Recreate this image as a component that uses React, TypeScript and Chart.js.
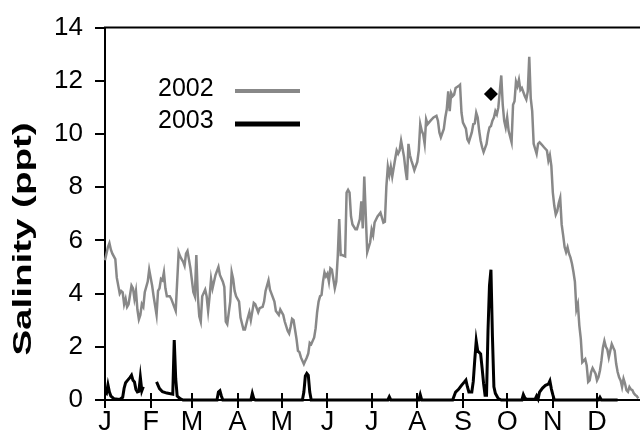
import React, { useEffect, useRef } from "react";
import { Chart, registerables } from "chart.js";

Chart.register(...registerables);

const monthStarts = [0, 31, 59, 90, 120, 151, 181, 212, 243, 273, 304, 334];
const monthLabels = ["J", "F", "M", "A", "M", "J", "J", "A", "S", "O", "N", "D"];
const legendLabels = ["2002", "2003"];
const yTitle = "Salinity (ppt)";

const days2002 = [
  0, 2, 3, 4, 5, 7, 8, 9, 10, 11,
  12, 13, 14, 15, 16, 18, 19, 20, 21, 22,
  23, 24, 25, 26, 27, 29, 30, 32, 33, 35,
  36, 37, 38, 39, 40, 41, 42, 44, 45, 47,
  48, 50, 51, 52, 53, 54, 55, 56, 58, 60,
  61, 62, 63, 64, 65, 66, 68, 69, 70, 71,
  72, 73, 75, 77, 78, 80, 81, 82, 83, 85,
  86, 87, 88, 89, 91, 92, 94, 95, 97, 98,
  99, 101, 102, 104, 105, 107, 108, 109, 111, 112,
  113, 115, 116, 118, 119, 121, 122, 124, 125, 126,
  127, 128, 130, 131, 132, 133, 135, 136, 137, 138,
  139, 140, 142, 143, 144, 145, 146, 147, 148, 149,
  150, 151, 152, 153, 154, 156, 157, 158, 159, 160,
  161, 163, 164, 165, 166, 167, 168, 170, 171, 173,
  174, 175, 176, 178, 180, 181, 182, 183, 185, 187,
  189, 190, 191, 192, 193, 194, 195, 197, 198, 199,
  200, 201, 203, 204, 205, 206, 207, 208, 209, 210,
  212, 213, 214, 215, 216, 217, 218, 219, 221, 223,
  225, 226, 227, 228, 230, 231, 232, 233, 234, 235,
  236, 237, 238, 240, 241, 242, 243, 245, 246, 247,
  249, 250, 251, 252, 253, 254, 255, 256, 257, 259,
  260, 261, 262, 263, 264, 265, 266, 267, 269, 270,
  271, 272, 273, 274, 276, 277, 278, 279, 280, 281,
  282, 283, 285, 286, 287, 288, 289, 290, 291, 293,
  294, 295, 296, 297, 298, 300, 301, 302, 303, 304,
  305, 306, 307, 308, 309, 310, 311, 312, 313, 314,
  315, 316, 317, 318, 319, 320, 321, 322, 323, 324,
  325, 326, 327, 328, 329, 330, 331, 333, 334, 335,
  336, 337, 338, 339, 340, 341, 342, 343, 344, 345,
  346, 347, 348, 349, 350, 351, 352, 353, 354, 355,
  356, 357, 358, 359, 360, 361, 362,
];

const salinity2002 = [
  5.25, 5.75, 5.9, 5.65, 5.5, 5.3, 4.6, 4.3, 4.0, 4.1,
  4.05, 3.6, 3.8, 3.5, 3.6, 4.3, 4.2, 3.8, 4.1, 3.4,
  3.03, 3.2, 3.6, 3.5, 4.05, 4.45, 4.9, 4.3, 3.9, 3.2,
  4.1, 4.2, 4.55, 4.5, 4.8, 4.2, 3.9, 3.9, 3.8, 3.5,
  3.35, 5.55, 5.4, 5.3, 5.2, 5.05, 5.5, 5.6, 4.95, 4.05,
  3.9, 5.45, 3.9, 3.15, 2.95, 3.9, 4.15, 3.9, 3.35, 3.9,
  4.55, 4.2, 4.7, 5.0, 4.7, 4.45, 4.25, 2.95, 2.85, 3.7,
  4.8, 4.55, 4.1, 3.9, 3.7, 3.1, 2.65, 2.65, 3.1, 3.3,
  3.0, 3.65, 3.6, 3.3, 3.45, 3.5, 3.7, 4.1, 4.5, 4.15,
  4.0, 3.7, 3.35, 3.2, 3.4, 3.2, 2.95, 2.6, 2.5, 2.75,
  3.05, 3.0, 2.3, 1.85, 1.8, 1.6, 1.35, 1.48, 1.6, 1.75,
  2.15, 2.1, 2.35, 2.7, 3.3, 3.7, 3.9, 3.95, 4.45, 4.8,
  4.65, 4.75, 4.45, 4.95, 4.9, 4.2, 4.45, 5.4, 6.8, 5.45,
  5.45, 5.4, 7.8, 7.9, 7.8, 6.9, 6.6, 6.42, 6.42, 6.8,
  7.47, 6.45, 8.4, 5.56, 5.93, 6.4, 6.2, 6.67, 6.9, 7.04,
  6.67, 6.7, 8.02, 8.77, 8.46, 8.77, 8.4, 9.07, 9.38, 9.26,
  9.38, 9.75, 9.14, 8.64, 8.27, 9.63, 9.2, 9.0, 8.83, 8.64,
  8.95, 9.38, 10.37, 10.12, 9.99, 9.63, 10.55, 10.37, 10.5, 10.62,
  10.68, 10.5, 10.06, 9.88, 10.19, 10.62, 10.93, 11.6, 10.86, 11.54,
  11.42, 11.48, 11.73, 11.8, 11.85, 10.8, 10.43, 10.2, 9.8, 9.7,
  10.06, 10.37, 10.4, 10.8, 10.62, 10.12, 9.75, 9.5, 9.32, 9.63,
  10.0, 10.25, 10.3, 10.5, 10.62, 10.86, 10.74, 10.99, 12.2, 11.1,
  10.5, 10.25, 10.62, 10.12, 9.69, 11.1, 11.23, 11.97, 11.8, 12.04,
  11.66, 11.73, 11.42, 11.3, 11.6, 12.9, 11.35, 10.86, 9.63, 9.26,
  9.63, 9.69, 9.63, 9.57, 9.5, 9.38, 9.0, 9.2, 8.8, 7.8,
  7.3, 6.97, 7.1, 7.4, 7.6, 6.6, 6.2, 5.75, 5.56, 5.74,
  5.5, 5.35, 5.12, 4.81, 4.44, 3.4, 3.6, 2.8, 2.3, 1.42,
  1.48, 1.54, 1.3, 0.68, 0.74, 1.05, 1.2, 0.99, 0.74, 0.86,
  1.11, 1.48, 1.97, 2.22, 2.0, 1.9, 1.6, 1.85, 2.1, 1.97,
  1.85, 1.36, 1.05, 0.85, 0.74, 0.49, 0.8, 0.62, 0.37, 0.31,
  0.49, 0.4, 0.37, 0.25, 0.19, 0.15, 0.06,
];

const days2003 = [
  0, 1, 2, 3, 4, 6, 10, 12, 13, 14,
  15, 17, 18, 19, 20, 21, 22, 23, 24, 25,
  26, 30, 35, 37, 39, 42, 46, 47, 48, 49,
  51, 53, 76, 77, 78, 79, 80, 99, 100, 101,
  102, 134, 135, 136, 137, 138, 139, 140, 192, 193,
  194, 213, 214, 215, 236, 237, 238, 240, 242, 244,
  245, 246, 247, 249, 250, 251, 252, 253, 255, 256,
  257, 258, 259, 260, 261, 262, 263, 264, 265, 267,
  269, 283, 284, 285, 286, 292, 293, 294, 295, 297,
  299, 301, 302, 303, 304, 305, 335, 336, 337, 348,
];

const salinity2003 = [
  0.3, 0.25, 0.57, 0.3, 0.15, 0.05, 0.02, 0.1, 0.45, 0.65,
  0.72, 0.85, 0.93, 0.74, 0.68, 0.4, 0.3, 0.32, 0.85, 0.35,
  0.5, null, 0.68, 0.43, 0.31, 0.26, 0.22, 2.25, 0.8, 0.15,
  0.05, 0, 0, 0.3, 0.35, 0.15, 0, 0, 0.25, 0.05,
  0, 0, 0.3, 0.9, 1.0, 0.93, 0.3, 0, 0, 0.12,
  0, 0, 0.2, 0, 0, 0.15, 0.3, 0.4, 0.55, 0.68,
  0.75, 0.5, 0.3, 0.3, 0.7, 1.5, 2.22, 1.85, 1.73, 1.2,
  0.62, 0.18, 0.18, 2.6, 4.3, 4.9, 2.4, 0.5, 0.25, 0.05,
  0, 0, 0.2, 0.08, 0.03, 0.03, 0.15, 0.04, 0.3, 0.45,
  0.55, 0.6, 0.72, 0.42, 0.2, 0, 0, 0.1, 0, 0,
];

const markerDays = [262];
const markerValues = [11.5];

const GRAY = "#888888";
const FONT = "'Liberation Sans', Arial, Helvetica, sans-serif";

const toPoints = (xs: number[], ys: (number | null)[]) =>
  xs.map((x, i) => ({ x, y: ys[i] }));

const decorPlugin = {
  id: "decor",
  afterDraw(chart: any) {
    const { ctx, chartArea, scales } = chart;
    ctx.save();
    // top frame line
    ctx.strokeStyle = "#000";
    ctx.lineWidth = 2;
    ctx.beginPath();
    ctx.moveTo(chartArea.left - 1, chartArea.top);
    ctx.lineTo(chart.width, chartArea.top);
    ctx.stroke();
    // inner half of x tick marks (crossing ticks)
    const y0 = scales.y.getPixelForValue(0);
    ctx.beginPath();
    for (const d of monthStarts) {
      const x = Math.round(scales.x.getPixelForValue(d));
      ctx.moveTo(x, y0 - 7);
      ctx.lineTo(x, y0);
    }
    ctx.stroke();

    // legend
    ctx.font = `25px ${FONT}`;
    ctx.fillStyle = "#000";
    ctx.textAlign = "left";
    ctx.textBaseline = "alphabetic";
    ctx.fillText(legendLabels[0], 158, 96);
    ctx.fillText(legendLabels[1], 158, 128);
    ctx.lineWidth = 4;
    ctx.strokeStyle = GRAY;
    ctx.beginPath();
    ctx.moveTo(235, 91);
    ctx.lineTo(300, 91);
    ctx.stroke();
    ctx.lineWidth = 5;
    ctx.strokeStyle = "#000";
    ctx.beginPath();
    ctx.moveTo(235, 124);
    ctx.lineTo(300, 124);
    ctx.stroke();

    // y axis title (stretched along its length)
    ctx.font = `bold 25px ${FONT}`;
    ctx.translate(31, 239);
    ctx.rotate(-Math.PI / 2);
    ctx.scale(1.54, 1);
    ctx.textAlign = "center";
    ctx.fillText(yTitle, 0, 0);
    ctx.restore();
  },
};

export default function App() {
  const canvasRef = useRef<HTMLCanvasElement | null>(null);

  useEffect(() => {
    document.body.style.margin = "0";
    const canvas = canvasRef.current;
    if (!canvas) return;
    const chart = new Chart(canvas, {
      type: "line",
      data: {
        datasets: [
          {
            label: "marker",
            data: toPoints(markerDays, markerValues),
            showLine: false,
            pointStyle: "rectRot",
            pointRadius: 7,
            pointBackgroundColor: "#000",
            pointBorderColor: "#000",
            pointBorderWidth: 0,
            borderColor: "#000",
            backgroundColor: "#000",
          },
          {
            label: "2003",
            data: toPoints(days2003, salinity2003),
            borderColor: "#000",
            borderWidth: 3,
            pointRadius: 0,
            spanGaps: false,
            tension: 0,
            clip: false,
          },
          {
            label: "2002",
            data: toPoints(days2002, salinity2002),
            borderColor: GRAY,
            borderWidth: 2.5,
            pointRadius: 0,
            tension: 0,
            clip: false,
          },
        ],
      } as any,
      options: {
        animation: false,
        responsive: false,
        maintainAspectRatio: false,
        layout: {
          autoPadding: false,
          padding: { top: 22, right: 1, bottom: 0, left: 0 },
        },
        plugins: {
          legend: { display: false },
          tooltip: { enabled: false },
          title: { display: false },
        },
        scales: {
          x: {
            type: "linear",
            min: 0,
            max: 362.5,
            afterBuildTicks: (s: any) => {
              s.ticks = monthStarts.map((v) => ({ value: v }));
            },
            afterFit: (s: any) => {
              s.height = 39;
            },
            grid: {
              display: true,
              drawOnChartArea: false,
              drawTicks: true,
              tickLength: 8,
              color: "#000",
              lineWidth: 2,
            },
            border: { display: true, color: "#000", width: 2 },
            ticks: {
              autoSkip: false,
              maxRotation: 0,
              minRotation: 0,
              padding: 1,
              color: "#000",
              font: { family: FONT, size: 27, lineHeight: 1 },
              callback: (_v: any, i: number) => monthLabels[i],
            },
          },
          y: {
            min: 0,
            max: 14,
            afterFit: (s: any) => {
              s.width = 105;
            },
            grid: {
              display: true,
              drawOnChartArea: false,
              drawTicks: true,
              tickLength: 10,
              color: "#000",
              lineWidth: 2,
            },
            border: { display: true, color: "#000", width: 2 },
            ticks: {
              stepSize: 2,
              padding: 12,
              color: "#000",
              font: { family: FONT, size: 26 },
            },
          },
        },
      } as any,
      plugins: [decorPlugin],
    });
    return () => chart.destroy();
  }, []);

  return (
    <div style={{ position: "absolute", left: 0, top: 0, width: 640, height: 439 }}>
      <canvas ref={canvasRef} width={640} height={439} style={{ display: "block" }} />
    </div>
  );
}
